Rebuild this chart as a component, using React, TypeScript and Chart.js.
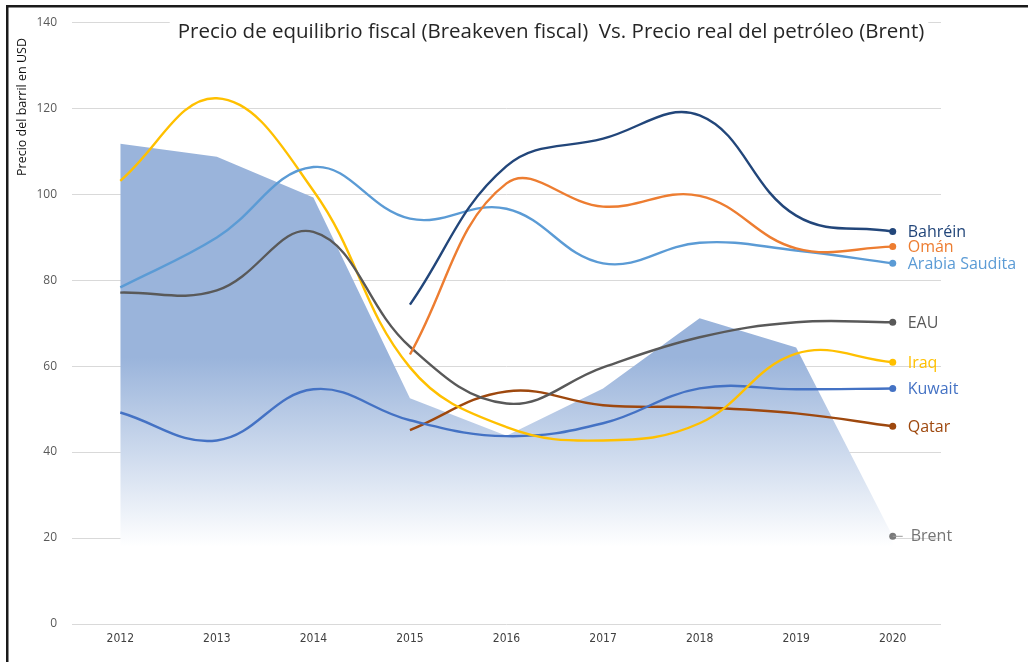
import React, { useEffect, useRef } from "react";
import { Chart, registerables } from "chart.js";

Chart.register(...registerables);

const years = ["2012", "2013", "2014", "2015", "2016", "2017", "2018", "2019", "2020"];
const yTicks = [0, 20, 40, 60, 80, 100, 120, 140];

const bahrein = [null, null, null, 74.3, 106.5, 112.9, 118.3, 95.0, 91.3];
const oman = [null, null, null, 62.7, 102.5, 97.1, 99.6, 87.4, 87.8];
const arabia = [78.3, 89.9, 106.3, 94.3, 96.6, 83.9, 88.7, 86.9, 83.9];
const eau = [77.1, 77.6, 91.2, 64.5, 51.3, 59.7, 66.7, 70.2, 70.2];
const iraq = [103.1, 122.3, 100.8, 59.7, 45.8, 42.7, 46.7, 62.9, 60.9];
const kuwait = [49.2, 42.7, 54.6, 47.4, 43.7, 46.7, 54.8, 54.6, 54.8];
const qatar = [null, null, null, 45.1, 54.1, 50.9, 50.4, 49.0, 46.0];
const brent = [111.7, 108.7, 99.2, 52.5, 43.8, 54.8, 71.1, 64.3, 20.4];

const seriesNames = ["Bahréin", "Omán", "Arabia Saudita", "EAU", "Iraq", "Kuwait", "Qatar", "Brent"];
const seriesColors = ["#22467A", "#ED7D31", "#5B9BD5", "#595959", "#FFC000", "#4472C4", "#9E480E", "#9AB4DB"];
const labelColors = ["#22467A", "#ED7D31", "#5B9BD5", "#595959", "#FFC000", "#4472C4", "#9E480E", "#757575"];

const titleText = "Precio de equilibrio fiscal (Breakeven fiscal)  Vs. Precio real del petróleo (Brent)";
const yTitleText = "Precio del barril en USD";

export default function App() {
  const ref = useRef<HTMLCanvasElement>(null);

  useEffect(() => {
    const canvas = ref.current!;
    const lastRadius = (ctx: any) => (ctx.dataIndex === years.length - 1 ? 3.5 : 0);

    const lineSeries = [bahrein, oman, arabia, eau, iraq, kuwait, qatar];
    const datasets: any[] = lineSeries.map((d, i) => ({
      label: seriesNames[i],
      data: d,
      borderColor: seriesColors[i],
      backgroundColor: seriesColors[i],
      borderWidth: 2.4,
      tension: 0.4,
      fill: false,
      pointRadius: lastRadius,
      pointHoverRadius: lastRadius,
      pointBorderWidth: 0,
      spanGaps: false,
    }));

    datasets.push({
      label: seriesNames[7],
      data: brent,
      borderWidth: 0,
      borderColor: "rgba(0,0,0,0)",
      tension: 0,
      fill: "origin",
      pointRadius: lastRadius,
      pointBackgroundColor: "#7A7A7A",
      pointBorderWidth: 0,
      backgroundColor: (ctx: any) => {
        const chart = ctx.chart;
        const ys = chart.scales && chart.scales.y;
        if (!chart.chartArea || !ys) return seriesColors[7];
        const g = chart.ctx.createLinearGradient(0, ys.getPixelForValue(62), 0, ys.getPixelForValue(18));
        g.addColorStop(0, "#9AB4DB");
        g.addColorStop(1, "#FFFFFF");
        return g;
      },
    });

    const decor = {
      id: "decor",
      afterDatasetsDraw(chart: any) {
        const c = chart.ctx;
        chart.data.datasets.forEach((ds: any, i: number) => {
          const meta = chart.getDatasetMeta(i);
          const pt = meta.data[meta.data.length - 1];
          if (!pt) return;
          c.save();
          c.font = '16px "Open Sans", sans-serif';
          c.fillStyle = labelColors[i];
          c.textBaseline = "middle";
          c.textAlign = "left";
          if (i === 7) {
            c.strokeStyle = "#9A9A9A";
            c.lineWidth = 1;
            c.beginPath();
            c.moveTo(pt.x, pt.y);
            c.lineTo(pt.x + 10, pt.y);
            c.stroke();
            c.fillText(ds.label, pt.x + 18, pt.y);
          } else {
            c.fillText(ds.label, pt.x + 15, pt.y + 1);
          }
          c.restore();
        });
      },
      afterDraw(chart: any) {
        const c = chart.ctx;
        c.save();
        // title with white backing
        c.font = '20.5px "Open Sans", sans-serif';
        const w = c.measureText(titleText).width;
        const cx = 551;
        c.fillStyle = "#FFFFFF";
        c.fillRect(cx - w / 2 - 8, 12, w + 12, 34);
        c.fillStyle = "#262626";
        c.textAlign = "center";
        c.textBaseline = "middle";
        c.fillText(titleText, cx, 32);
        // y title
        c.translate(22, 107);
        c.rotate(-Math.PI / 2);
        c.font = '12.5px "Open Sans", sans-serif';
        c.fillStyle = "#111111";
        c.fillText(yTitleText, 0, 0);
        c.restore();
        // frame
        c.save();
        c.fillStyle = "#1A1A1A";
        c.fillRect(6, 5, 1022, 2.5);
        c.fillRect(6, 5, 2.5, 657);
        c.restore();
      },
    };

    const chart = new Chart(canvas, {
      type: "line",
      data: { labels: years, datasets },
      options: {
        animation: false,
        responsive: true,
        maintainAspectRatio: false,
        layout: { padding: { left: 0, right: 87, top: 21, bottom: 0 } },
        plugins: {
          legend: { display: false },
          title: { display: false },
          tooltip: { enabled: false },
        },
        scales: {
          x: {
            offset: true,
            grid: { display: false, drawTicks: false },
            border: { display: false },
            ticks: {
              color: "#404040",
              padding: 8,
              font: { family: '"Liberation Sans Narrow", "DejaVu Sans Condensed", sans-serif', size: 12 },
            },
            afterFit: (s: any) => {
              s.height = 38;
            },
          },
          y: {
            min: 0,
            max: 140,
            afterBuildTicks: (s: any) => {
              s.ticks = yTicks.map((v) => ({ value: v }));
            },
            grid: { color: "#D9D9D9", lineWidth: 1, drawTicks: false },
            border: { display: false },
            ticks: {
              color: "#595959",
              padding: 15,
              font: { family: '"Open Sans", sans-serif', size: 12 },
            },
            afterFit: (s: any) => {
              s.width = 72;
            },
          },
        },
      },
      plugins: [decor],
    });

    return () => chart.destroy();
  }, []);

  return (
    <div style={{ position: "fixed", left: 0, top: 0, width: 1028, height: 662, background: "#FFFFFF" }}>
      <canvas ref={ref} />
    </div>
  );
}
